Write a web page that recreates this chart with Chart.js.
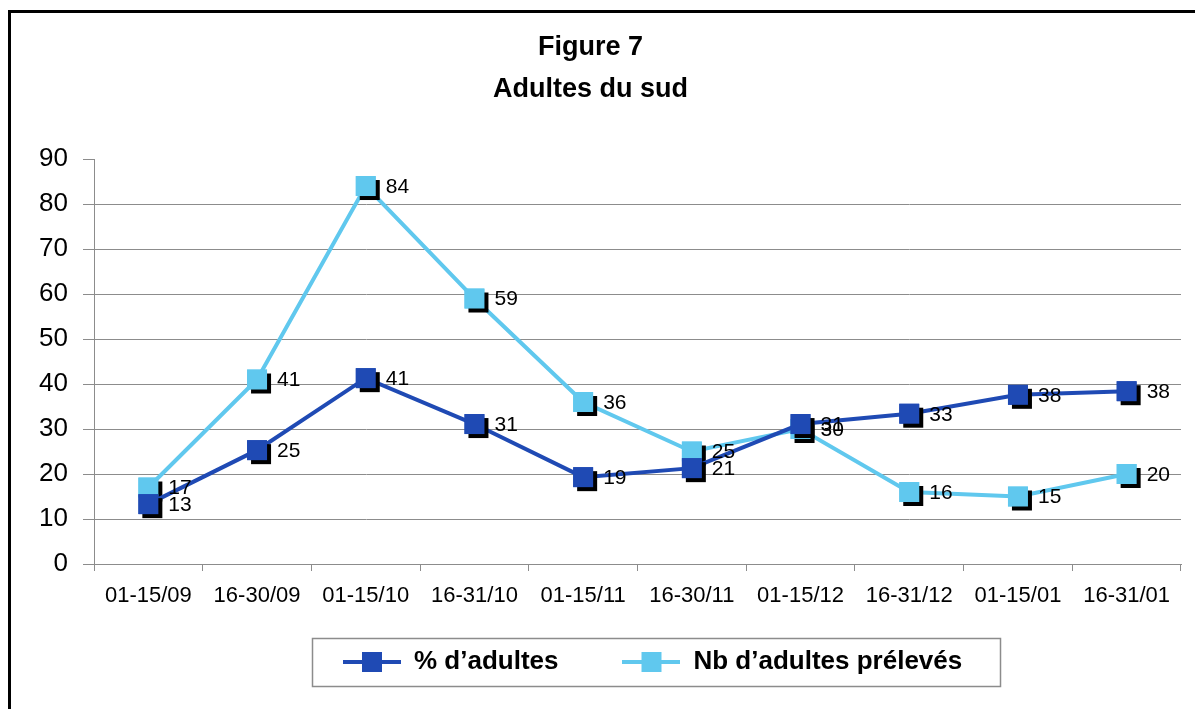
<!DOCTYPE html>
<html>
<head>
<meta charset="utf-8">
<title>Figure 7 - Adultes du sud</title>
<script src="https://cdn.jsdelivr.net/npm/chart.js@4.4.1/dist/chart.umd.min.js"></script>
<style>
  html, body { margin: 0; padding: 0; background: #fff; }
  #wrap { position: relative; width: 1195px; height: 709px; overflow: hidden; }
  #chart { position: absolute; left: 0; top: 0; }
  /* scanned frame: only the top and left edges show */
  #frame { position: absolute; left: 8px; top: 10px; right: -10px; bottom: -10px;
           border-left: 3px solid #000; border-top: 3px solid #000; pointer-events: none; }
</style>
</head>
<body>
<div id="wrap">
  <canvas id="chart" width="1195" height="709"></canvas>
  <div id="frame"></div>
</div>
<script>
(function () {
    'use strict';

    /* ===== Data ===== */
    var periods = ['01-15/09', '16-30/09', '01-15/10', '16-31/10', '01-15/11',
                   '16-30/11', '01-15/12', '16-31/12', '01-15/01', '16-31/01'];
    var pctAdultes = [13.3, 25.3, 41.3, 31.1, 19.3, 21.3, 31.1, 33.4, 37.6, 38.4];
    var nbAdultes = [17, 41, 84, 59, 36, 25, 30, 16, 15, 20];
    var yTicks = [0, 10, 20, 30, 40, 50, 60, 70, 80, 90];

    /* ===== Style ===== */
    var COLORS = {
        dark:  '#1F4AB4',
        light: '#60C8EE',
        grid:  '#8C8C8C',
        text:  '#000000'
    };
    var FAMILY = "'Liberation Sans', Arial, sans-serif";

    Chart.defaults.color = COLORS.text;
    Chart.defaults.font.family = FAMILY;

    // legend symbol: short line with a square on it
    function legendSymbol(color) {
        var c = document.createElement('canvas');
        c.width = 58; c.height = 22;
        var g = c.getContext('2d');
        g.strokeStyle = color;
        g.lineWidth = 4;
        g.beginPath(); g.moveTo(0, 11); g.lineTo(58, 11); g.stroke();
        g.fillStyle = color;
        g.fillRect(19, 1, 20, 20);
        return c;
    }

    /* marker shadow + value labels */
    var markerPlugin = {
        id: 'markerShadow',
        afterDatasetDraw: function (chart, args) {
            var ctx = chart.ctx;
            var ds = chart.data.datasets[args.index];
            var s = 10;
            ctx.save();
            args.meta.data.forEach(function (pt) {
                ctx.fillStyle = '#000';
                ctx.fillRect(pt.x - s + 4, pt.y - s + 4, 2 * s, 2 * s);
                ctx.fillStyle = ds.pointBackgroundColor;
                ctx.fillRect(pt.x - s, pt.y - s, 2 * s, 2 * s);
            });
            ctx.restore();
        },
        afterDatasetsDraw: function (chart) {
            var ctx = chart.ctx;
            ctx.save();
            ctx.font = '21px ' + FAMILY;
            ctx.fillStyle = '#000';
            ctx.textAlign = 'left';
            ctx.textBaseline = 'middle';
            chart.data.datasets.forEach(function (ds, i) {
                var meta = chart.getDatasetMeta(i);
                meta.data.forEach(function (pt, j) {
                    ctx.fillText(String(Math.round(ds.data[j])), pt.x + 20, pt.y + 1);
                });
            });
            ctx.restore();
        }
    };

    /* legend placed in its own framed box below the axis */
    var legendBoxPlugin = {
        id: 'legendBox',
        afterLayout: function (chart) {
            var lg = chart.legend;
            if (!lg) return;
            lg.left = 279;
            lg.right = 1181;
            lg.top = 585;
            lg.bottom = 709;
        },
        afterDraw: function (chart) {
            var ctx = chart.ctx;
            ctx.save();
            ctx.strokeStyle = '#8C8C8C';
            ctx.lineWidth = 1.5;
            ctx.strokeRect(312.5, 638.5, 688, 48);
            ctx.restore();
        }
    };

    var ctx = document.getElementById('chart');
    new Chart(ctx, {
        type: 'line',
        data: {
            labels: periods,
            datasets: [{
                label: '% d\u2019adultes',
                data: pctAdultes,
                borderColor: COLORS.dark,
                backgroundColor: COLORS.dark,
                pointBackgroundColor: COLORS.dark,
                borderWidth: 4,
                pointStyle: 'rect',
                pointRadius: 14,
                pointBorderWidth: 0,
                tension: 0
            }, {
                label: 'Nb d\u2019adultes pr\u00e9lev\u00e9s',
                data: nbAdultes,
                borderColor: COLORS.light,
                backgroundColor: COLORS.light,
                pointBackgroundColor: COLORS.light,
                borderWidth: 4,
                pointStyle: 'rect',
                pointRadius: 14,
                pointBorderWidth: 0,
                tension: 0
            }]
        },
        options: {
            responsive: false,
            animation: false,
            layout: { padding: { left: 0, right: 14, top: 0, bottom: 45 } },
            plugins: {
                title: {
                    display: true,
                    text: ['Figure 7', 'Adultes du sud'],
                    color: '#000',
                    font: { family: FAMILY, size: 27, weight: 'bold', lineHeight: 1.556 },
                    padding: { top: 27, bottom: 48 }
                },
                legend: {
                    display: true,
                    position: 'bottom',
                    align: 'start',
                    maxHeight: 40,
                    labels: {
                        usePointStyle: true,
                        pointStyleWidth: 58,
                        padding: 64,
                        color: '#000',
                        font: { family: FAMILY, size: 26, weight: 'bold' },
                        generateLabels: function (chart) {
                            var items = Chart.defaults.plugins.legend.labels.generateLabels(chart);
                            items.forEach(function (it) {
                                var ds = chart.data.datasets[it.datasetIndex];
                                it.pointStyle = legendSymbol(ds.borderColor);
                            });
                            return items;
                        }
                    }
                },
                tooltip: { enabled: false }
            },
            scales: {
                x: {
                    offset: true,
                    grid: {
                        offset: true,
                        drawOnChartArea: false,
                        tickLength: 7,
                        tickColor: COLORS.grid
                    },
                    border: { color: COLORS.grid, width: 1 },
                    ticks: {
                        color: '#000',
                        font: { family: FAMILY, size: 22 },
                        padding: 12,
                        maxRotation: 0,
                        autoSkip: false
                    },
                    afterFit: function (scale) { scale.height = 60; }
                },
                y: {
                    min: 0,
                    max: 90,
                    afterBuildTicks: function (scale) {
                        scale.ticks = yTicks.map(function (v) { return { value: v }; });
                    },
                    grid: {
                        color: function (c) { return c.tick && c.tick.value === 90 ? 'rgba(0,0,0,0)' : COLORS.grid; },
                        tickColor: COLORS.grid,
                        tickLength: 11,
                        lineWidth: 1
                    },
                    border: { color: COLORS.grid, width: 1 },
                    ticks: {
                        color: '#000',
                        font: { family: FAMILY, size: 26 },
                        padding: 15
                    },
                    afterFit: function (scale) { scale.width = 94; }
                }
            }
        },
        plugins: [markerPlugin, legendBoxPlugin]
    });
})();
</script>
</body>
</html>
